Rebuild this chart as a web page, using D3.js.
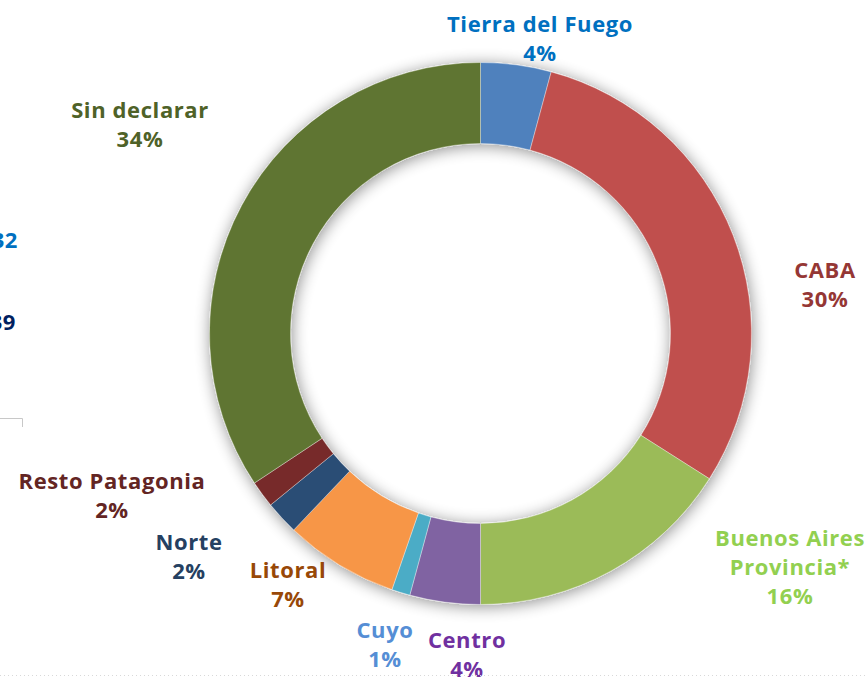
<!DOCTYPE html>
<html><head><meta charset="utf-8">
<script src="https://cdn.jsdelivr.net/npm/d3@7"></script>
<style>body{margin:0;background:#fff}svg{display:block}</style>
</head><body>
<script>
const categories = ["Tierra del Fuego","CABA","Buenos Aires Provincia*","Centro","Cuyo","Litoral","Norte","Resto Patagonia","Sin declarar"];
const values = [4.2,29.8,16.0,4.2,1.1,6.8,2.0,1.6,34.3];
const pctLabels = ["4%","30%","16%","4%","1%","7%","2%","2%","34%"];
const labelLines = [["Tierra del Fuego"],["CABA"],["Buenos Aires","Provincia*"],["Centro"],["Cuyo"],["Litoral"],["Norte"],["Resto Patagonia"],["Sin declarar"]];
const sliceColors = ["#4F81BD","#C0504D","#9BBB59","#8064A2","#4BACC6","#F79646","#2C4D75","#772C2A","#5F7530"];
const labelColors = ["#0070C0","#953735","#92D050","#7030A0","#558ED5","#984807","#254061","#632523","#4F6228"];
const labelPos = [[540,24],[825,270],[790,538],[467,640],[385,630],[288,570],[189,542],[112,481],[140,110]];
const sideTexts = [{t:"32",x:18,y:240,c:"#0070C0"},{t:"39",x:16,y:322,c:"#002060"}];

const W=866,H=677;
const svg=d3.select("body").append("svg").attr("width",W).attr("height",H);
const defs=svg.append("defs");
const f=defs.append("filter").attr("id","sh").attr("x","-20%").attr("y","-20%").attr("width","140%").attr("height","140%");
f.append("feGaussianBlur").attr("in","SourceAlpha").attr("stdDeviation",8).attr("result","b");
f.append("feOffset").attr("in","b").attr("dx",1).attr("dy",2).attr("result","o");
f.append("feComponentTransfer").attr("in","o").attr("result","o2").append("feFuncA").attr("type","linear").attr("slope",0.45);
const m=f.append("feMerge");m.append("feMergeNode").attr("in","o2");m.append("feMergeNode").attr("in","SourceGraphic");

const cx=480.5,cy=333.5;
const pie=d3.pie().sort(null).value(d=>d)(values);
const arc=d3.arc().innerRadius(190).outerRadius(271);
const g=svg.append("g").attr("transform",`translate(${cx},${cy})`).attr("filter","url(#sh)");
g.selectAll("path").data(pie).join("path").attr("d",arc)
 .attr("fill",(d,i)=>sliceColors[i]).attr("stroke","#ffffff").attr("stroke-width",0.6).attr("stroke-opacity",0.6);

const font="'Open Sans','Lato',sans-serif";
categories.forEach((c,i)=>{
  const lines=labelLines[i].concat([pctLabels[i]]);
  const t=svg.append("text").attr("text-anchor","middle").attr("font-family",font).attr("font-weight",700)
    .attr("font-size",22).attr("letter-spacing",0.6).attr("fill",labelColors[i]);
  lines.forEach((l,j)=>t.append("tspan").attr("x",labelPos[i][0]).attr("y",labelPos[i][1]+j*29).attr("dy","0.35em").text(l));
});
sideTexts.forEach(s=>svg.append("text").attr("x",s.x).attr("y",s.y).attr("dy","0.35em").attr("text-anchor","end")
  .attr("font-family",font).attr("font-weight",700).attr("font-size",22).attr("letter-spacing",0.6).attr("fill",s.c).text(s.t));
svg.append("path").attr("d","M0,418.5H22.5V427").attr("fill","none").attr("stroke","#c8c8c8").attr("stroke-width",1);
svg.append("line").attr("x1",0).attr("x2",W).attr("y1",675.5).attr("y2",675.5).attr("stroke","#d9d9d9").attr("stroke-dasharray","1,3");
</script>
</body></html>
